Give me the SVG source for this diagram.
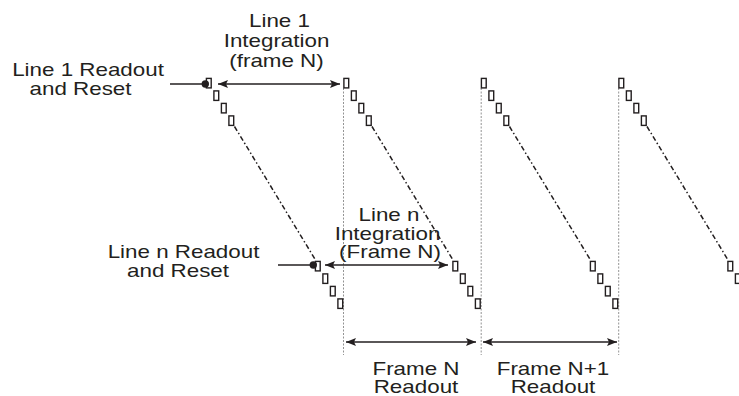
<svg xmlns="http://www.w3.org/2000/svg" width="739" height="396" viewBox="0 0 739 396">
<style>
.lbl{font-family:"Liberation Sans",Arial,Helvetica,sans-serif;font-size:18.5px;fill:#231f20;text-anchor:middle}
.cell{fill:#fff;stroke:#231f20;stroke-width:1.4}
.dd{fill:none;stroke:#231f20;stroke-width:1.5;stroke-dasharray:5 2.5 1.5 2.5}
.vd{fill:none;stroke:#777;stroke-width:0.8;stroke-dasharray:2 1.5}
.arr{fill:none;stroke:#231f20;stroke-width:1.6}
.dot{fill:#231f20}
</style>
<defs>
<marker id="ah" viewBox="0 0 10 8" refX="10" refY="4" markerWidth="10" markerHeight="8" markerUnits="userSpaceOnUse" orient="auto-start-reverse">
<path d="M0,0 L10,4 L0,8 L2,4 z" fill="#231f20"/>
</marker>
</defs>
<rect width="739" height="396" fill="#fff"/>

<g id="guides">
<line class="vd" x1="343.5" y1="88" x2="343.5" y2="355"/>
<line class="vd" x1="481.2" y1="88" x2="481.2" y2="355"/>
<line class="vd" x1="618.7" y1="88" x2="618.7" y2="355"/>
</g>

<g id="frame1">
<rect class="cell" x="206.4" y="78.4" width="4.8" height="9.5"/>
<rect class="cell" x="213.9" y="90.9" width="4.8" height="9.5"/>
<rect class="cell" x="221.4" y="103.4" width="4.8" height="9.5"/>
<rect class="cell" x="228.9" y="115.9" width="4.8" height="9.5"/>
<line class="dd" x1="234.5" y1="126.5" x2="315.5" y2="260"/>
<rect class="cell" x="315.4" y="261.4" width="4.8" height="9.5"/>
<rect class="cell" x="322.9" y="273.9" width="4.8" height="9.5"/>
<rect class="cell" x="330.4" y="286.4" width="4.8" height="9.5"/>
<rect class="cell" x="337.9" y="298.9" width="4.8" height="9.5"/>
</g>

<g id="frame2">
<rect class="cell" x="343.9" y="78.4" width="4.8" height="9.5"/>
<rect class="cell" x="351.4" y="90.9" width="4.8" height="9.5"/>
<rect class="cell" x="358.9" y="103.4" width="4.8" height="9.5"/>
<rect class="cell" x="366.4" y="115.9" width="4.8" height="9.5"/>
<line class="dd" x1="372" y1="126.5" x2="453" y2="260"/>
<rect class="cell" x="452.9" y="261.4" width="4.8" height="9.5"/>
<rect class="cell" x="460.4" y="273.9" width="4.8" height="9.5"/>
<rect class="cell" x="467.9" y="286.4" width="4.8" height="9.5"/>
<rect class="cell" x="475.4" y="298.9" width="4.8" height="9.5"/>
</g>

<g id="frame3">
<rect class="cell" x="481.4" y="78.4" width="4.8" height="9.5"/>
<rect class="cell" x="488.9" y="90.9" width="4.8" height="9.5"/>
<rect class="cell" x="496.4" y="103.4" width="4.8" height="9.5"/>
<rect class="cell" x="503.9" y="115.9" width="4.8" height="9.5"/>
<line class="dd" x1="509.5" y1="126.5" x2="590.5" y2="260"/>
<rect class="cell" x="590.4" y="261.4" width="4.8" height="9.5"/>
<rect class="cell" x="597.9" y="273.9" width="4.8" height="9.5"/>
<rect class="cell" x="605.4" y="286.4" width="4.8" height="9.5"/>
<rect class="cell" x="612.9" y="298.9" width="4.8" height="9.5"/>
</g>

<g id="frame4">
<rect class="cell" x="618.9" y="78.4" width="4.8" height="9.5"/>
<rect class="cell" x="626.4" y="90.9" width="4.8" height="9.5"/>
<rect class="cell" x="633.9" y="103.4" width="4.8" height="9.5"/>
<rect class="cell" x="641.4" y="115.9" width="4.8" height="9.5"/>
<line class="dd" x1="647" y1="126.5" x2="728" y2="260"/>
<rect class="cell" x="727.9" y="261.4" width="4.8" height="9.5"/>
<rect class="cell" x="735.4" y="273.9" width="4.8" height="9.5"/>
</g>

<g id="connectors">
<line class="arr" x1="170" y1="84" x2="205" y2="84"/>
<circle class="dot" cx="205.3" cy="84" r="3.7"/>
<line class="arr" x1="218" y1="84" x2="340" y2="84" marker-start="url(#ah)" marker-end="url(#ah)"/>
<line class="arr" x1="278" y1="265" x2="313" y2="265"/>
<circle class="dot" cx="313.3" cy="265" r="3.7"/>
<line class="arr" x1="325" y1="265" x2="448" y2="265" marker-start="url(#ah)" marker-end="url(#ah)"/>
<line class="arr" x1="346" y1="342" x2="476" y2="342" marker-start="url(#ah)" marker-end="url(#ah)"/>
<line class="arr" x1="483" y1="342" x2="617" y2="342" marker-start="url(#ah)" marker-end="url(#ah)"/>
</g>

<g id="label-line1-readout">
<text class="lbl" transform="translate(88,76) scale(1.21,1)">Line 1 Readout</text>
<text class="lbl" transform="translate(80.5,95) scale(1.21,1)">and Reset</text>
</g>
<g id="label-line1-integration">
<text class="lbl" transform="translate(279.5,26.5) scale(1.21,1)">Line 1</text>
<text class="lbl" transform="translate(276.5,47) scale(1.21,1)">Integration</text>
<text class="lbl" transform="translate(276.5,66.5) scale(1.21,1)">(frame N)</text>
</g>
<g id="label-linen-readout">
<text class="lbl" transform="translate(183.5,258) scale(1.21,1)">Line n Readout</text>
<text class="lbl" transform="translate(178,277) scale(1.21,1)">and Reset</text>
</g>
<g id="label-linen-integration">
<text class="lbl" transform="translate(389,220.5) scale(1.21,1)">Line n</text>
<text class="lbl" transform="translate(387.5,239.5) scale(1.21,1)">Integration</text>
<text class="lbl" transform="translate(390,258) scale(1.21,1)">(Frame N)</text>
</g>
<g id="label-frameN">
<text class="lbl" transform="translate(416,374.5) scale(1.21,1)">Frame N</text>
<text class="lbl" transform="translate(416,392.5) scale(1.21,1)">Readout</text>
</g>
<g id="label-frameN1">
<text class="lbl" transform="translate(553,374.5) scale(1.21,1)">Frame N+1</text>
<text class="lbl" transform="translate(553,392.5) scale(1.21,1)">Readout</text>
</g>
</svg>
